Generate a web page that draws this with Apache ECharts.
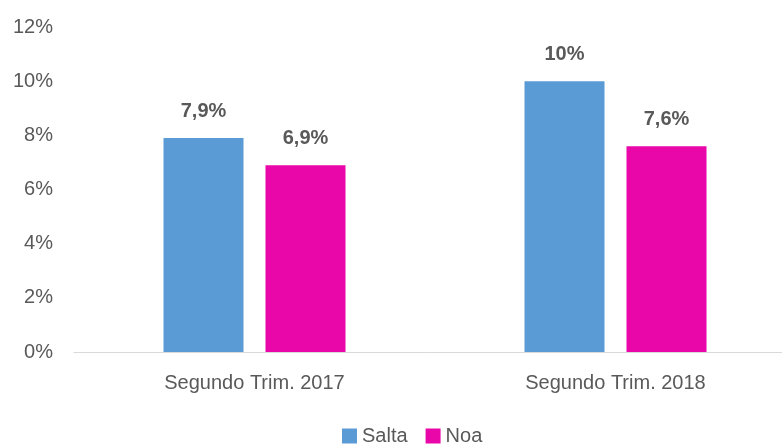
<!DOCTYPE html>
<html>
<head>
<meta charset="utf-8">
<script src="https://cdn.jsdelivr.net/npm/echarts@6/dist/echarts.min.js"></script>
<style>
html,body{margin:0;padding:0;background:#fff;}
#chart{width:782px;height:445px;}
</style>
</head>
<body>
<div id="chart"></div>
<script>
var categories = ['Segundo Trim. 2017', 'Segundo Trim. 2018'];
var saltaData = [7.9, 10];
var noaData = [6.9, 7.6];
var saltaLabels = ['7,9%', '10%'];
var noaLabels = ['6,9%', '7,6%'];

var chart = echarts.init(document.getElementById('chart'));

var labelStyle = function(texts) {
	return {
		show: true,
		position: 'top',
		distance: 17,
		fontFamily: 'Liberation Sans',
		fontSize: 20,
		fontWeight: 'bold',
		color: '#595959',
		formatter: function(p) { return texts[p.dataIndex]; }
	};
};

var option = {
	backgroundColor: '#fff',
	animation: false,
	grid: {left: 74, top: 27, width: 722, height: 325, outerBoundsMode: 'none', containLabel: false},
	legend: {
		left: 337,
		top: 421,
		itemWidth: 15,
		itemHeight: 15,
		itemGap: 18,
		icon: 'rect',
		textStyle: {fontFamily: 'Liberation Sans', fontSize: 20, color: '#595959'},
		data: ['Salta', 'Noa']
	},
	xAxis: {
		type: 'category',
		data: categories,
		axisTick: {show: false},
		axisLine: {lineStyle: {color: '#D9D9D9'}},
		axisLabel: {margin: 21, fontFamily: 'Liberation Sans', fontSize: 20, color: '#595959'}
	},
	yAxis: {
		type: 'value',
		min: 0,
		max: 12,
		interval: 2,
		splitLine: {show: false},
		axisLine: {show: false},
		axisTick: {show: false},
		axisLabel: {margin: 21, fontFamily: 'Liberation Sans', fontSize: 20, color: '#595959', formatter: '{value}%'}
	},
	series: [
		{
			name: 'Salta',
			type: 'bar',
			barWidth: 80,
			barGap: '27.5%',
			itemStyle: {color: '#5B9BD5'},
			label: labelStyle(saltaLabels),
			data: saltaData
		},
		{
			name: 'Noa',
			type: 'bar',
			barWidth: 80,
			itemStyle: {color: '#E907AA'},
			label: labelStyle(noaLabels),
			data: noaData
		}
	]
};
chart.setOption(option);
</script>
</body>
</html>
